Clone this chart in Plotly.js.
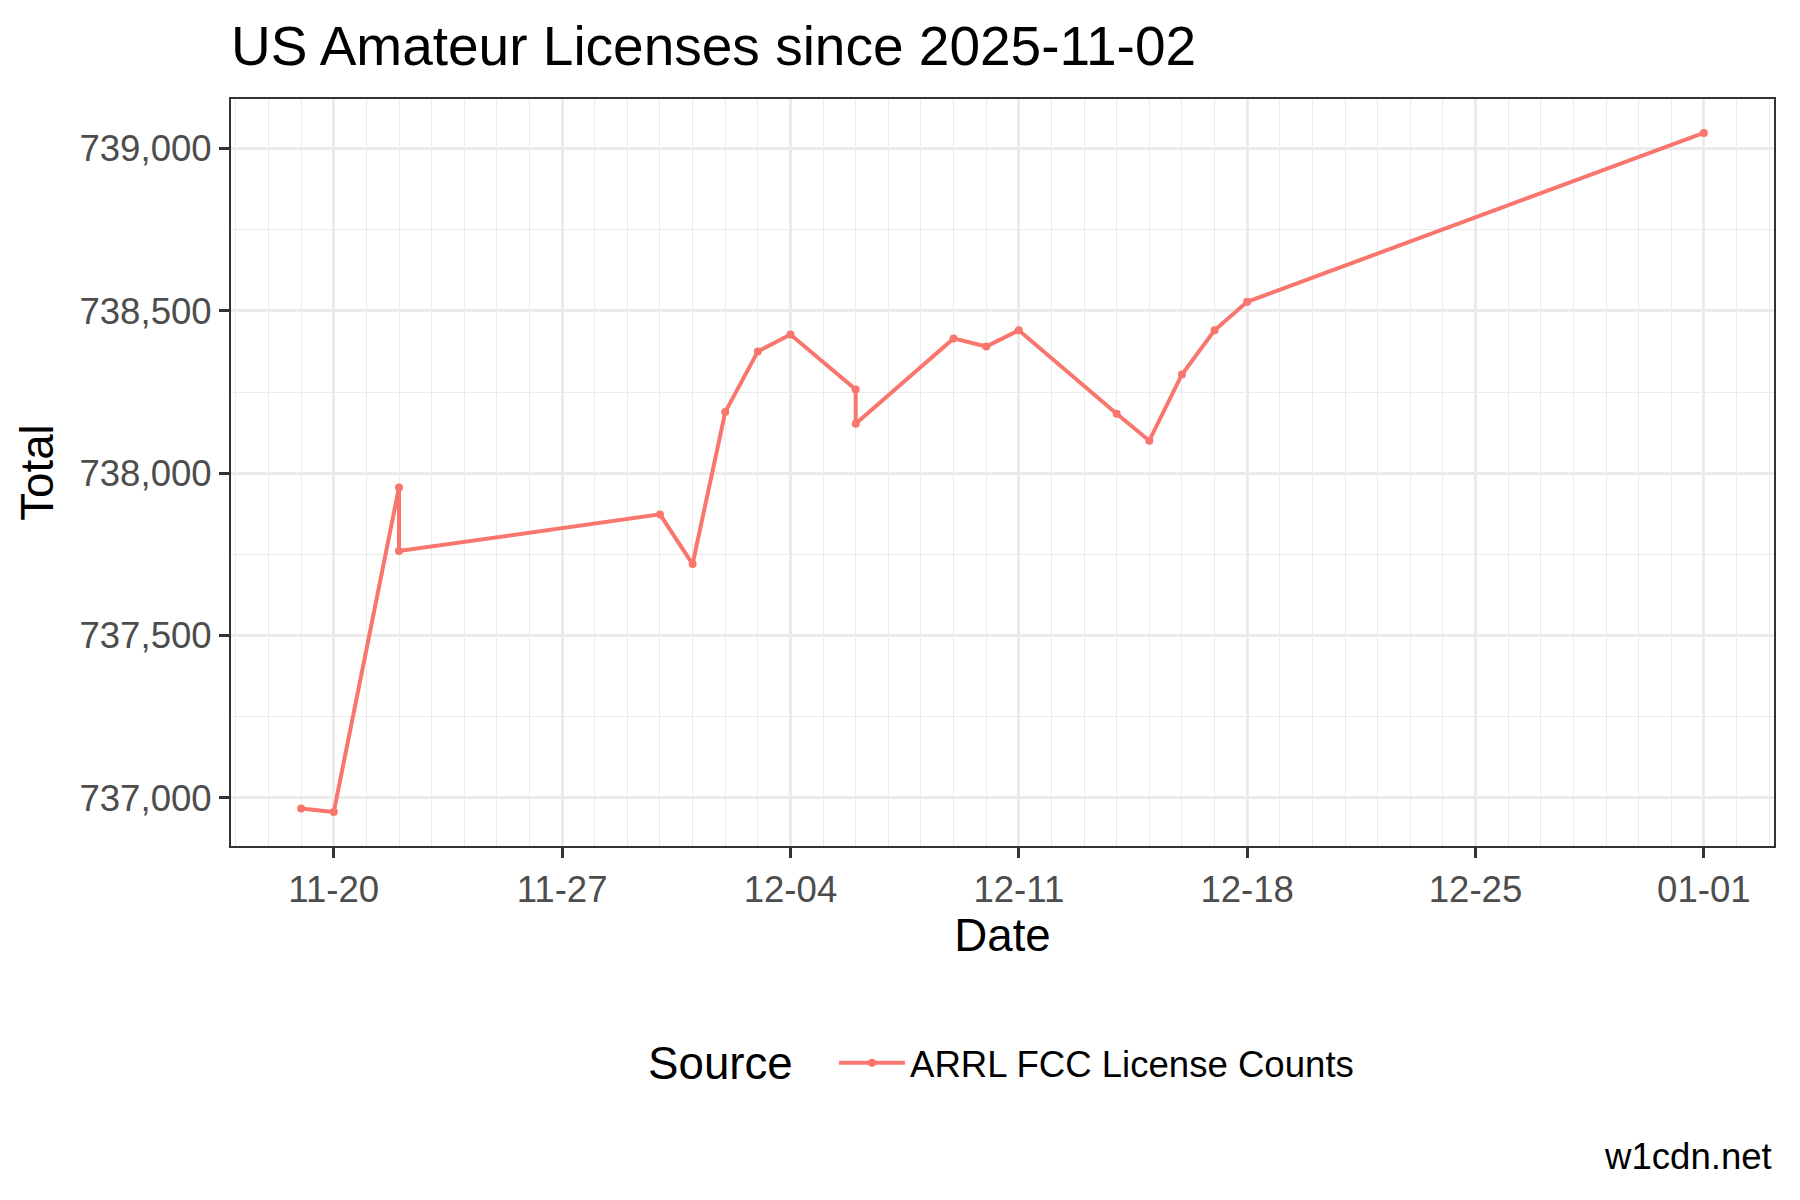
<!DOCTYPE html>
<html>
<head>
<meta charset="utf-8">
<script src="https://cdn.plot.ly/plotly-3.0.1.min.js"></script>
<style>html,body{margin:0;padding:0;background:#fff;}#chart{width:1800px;height:1200px;}</style>
</head>
<body>
<div id="chart"></div>
<script>
const dates = ["2025-11-19","2025-11-20","2025-11-22","2025-11-22","2025-11-30","2025-12-01","2025-12-02","2025-12-03","2025-12-04","2025-12-06","2025-12-06","2025-12-09","2025-12-10","2025-12-11","2025-12-14","2025-12-15","2025-12-16","2025-12-17","2025-12-18","2026-01-01"];
const totals = [736967,736956,737956,737760,737873,737720,738188,738375,738427,738258,738152,738415,738390,738440,738183,738100,738304,738440,738528,739048];
const seriesName = "ARRL FCC License Counts";
const titleText = "US Amateur Licenses since 2025-11-02";
const xTitle = "Date";
const yTitle = "Total";
const legendTitle = "Source";
const captionText = "w1cdn.net";

const FONT = "Liberation Sans, Arial, Helvetica, sans-serif";
const DAY = 86400000;

// ggplot-style 5% expansion of the scales
const tvals = dates.map(d => Date.parse(d + "T00:00:00Z"));
const tmin = Math.min(...tvals), tmax = Math.max(...tvals);
const tpad = (tmax - tmin) * 0.05;
const fmt = t => new Date(t).toISOString().replace("T"," ").slice(0,19);
const ymin = Math.min(...totals), ymax = Math.max(...totals);
const ypad = (ymax - ymin) * 0.05;

const trace = {
  x: dates, y: totals, type: "scatter", mode: "lines+markers", name: seriesName,
  line: {color: "#F8766D", width: 4},
  marker: {color: "#F8766D", size: 8}
};

const layout = {
  width: 1800, height: 1200,
  paper_bgcolor: "#ffffff", plot_bgcolor: "#ffffff",
  margin: {l: 231, r: 26, t: 99, b: 354},
  font: {family: FONT, color: "#000"},
  title: {text: titleText, font: {family: FONT, size: 55, color: "#000"},
          x: 231/1800, xanchor: "left", xref: "container", y: 1 - 46/1200, yanchor: "middle", yref: "container"},
  showlegend: true,
  legend: {orientation: "h", x: (834 - 231)/1543, xanchor: "left", y: (846-1063)/747, yanchor: "middle",
           font: {family: FONT, size: 36.6, color: "#000"}, itemwidth: 66, bgcolor: "rgba(0,0,0,0)"},
  xaxis: {
    type: "date", range: [fmt(tmin - tpad), fmt(tmax + tpad)],
    tick0: "2025-11-20", dtick: 7*DAY, tickformat: "%m-%d",
    showgrid: true, gridcolor: "#EBEBEB", gridwidth: 2.8,
    minor: {dtick: DAY, showgrid: true, gridcolor: "#EBEBEB", gridwidth: 1.4, ticks: ""},
    ticks: "outside", ticklen: 10, tickwidth: 2.5, tickcolor: "#333333",
    tickfont: {family: FONT, size: 36.6, color: "#4D4D4D"},
    showline: true, mirror: true, linecolor: "#333333", linewidth: 2,
    zeroline: false,
    title: {text: xTitle, font: {family: FONT, size: 45.7, color: "#000"}, standoff: 7}
  },
  yaxis: {
    range: [ymin - ypad, ymax + ypad],
    tick0: 737000, dtick: 500, tickformat: ",d",
    showgrid: true, gridcolor: "#EBEBEB", gridwidth: 2.8,
    minor: {dtick: 250, showgrid: true, gridcolor: "#EBEBEB", gridwidth: 1.4, ticks: ""},
    ticks: "outside", ticklen: 10, tickwidth: 2.5, tickcolor: "#333333",
    tickfont: {family: FONT, size: 36.6, color: "#4D4D4D"},
    showline: true, mirror: true, linecolor: "#333333", linewidth: 2,
    zeroline: false,
    title: {text: yTitle, font: {family: FONT, size: 45.7, color: "#000"}, standoff: 11}
  },
  annotations: [{
    text: legendTitle, xref: "paper", yref: "paper", x: (795 - 231)/1543, y: (846-1063)/747,
    xanchor: "right", yanchor: "middle", showarrow: false,
    font: {family: FONT, size: 45.7, color: "#000"}
  }, {
    text: captionText, xref: "paper", yref: "paper", x: 1, y: (846-1156)/747,
    xanchor: "right", yanchor: "middle", showarrow: false,
    font: {family: FONT, size: 36.6, color: "#000"}
  }]
};

Plotly.newPlot("chart", [trace], layout, {displayModeBar: false, responsive: false});
</script>
</body>
</html>
